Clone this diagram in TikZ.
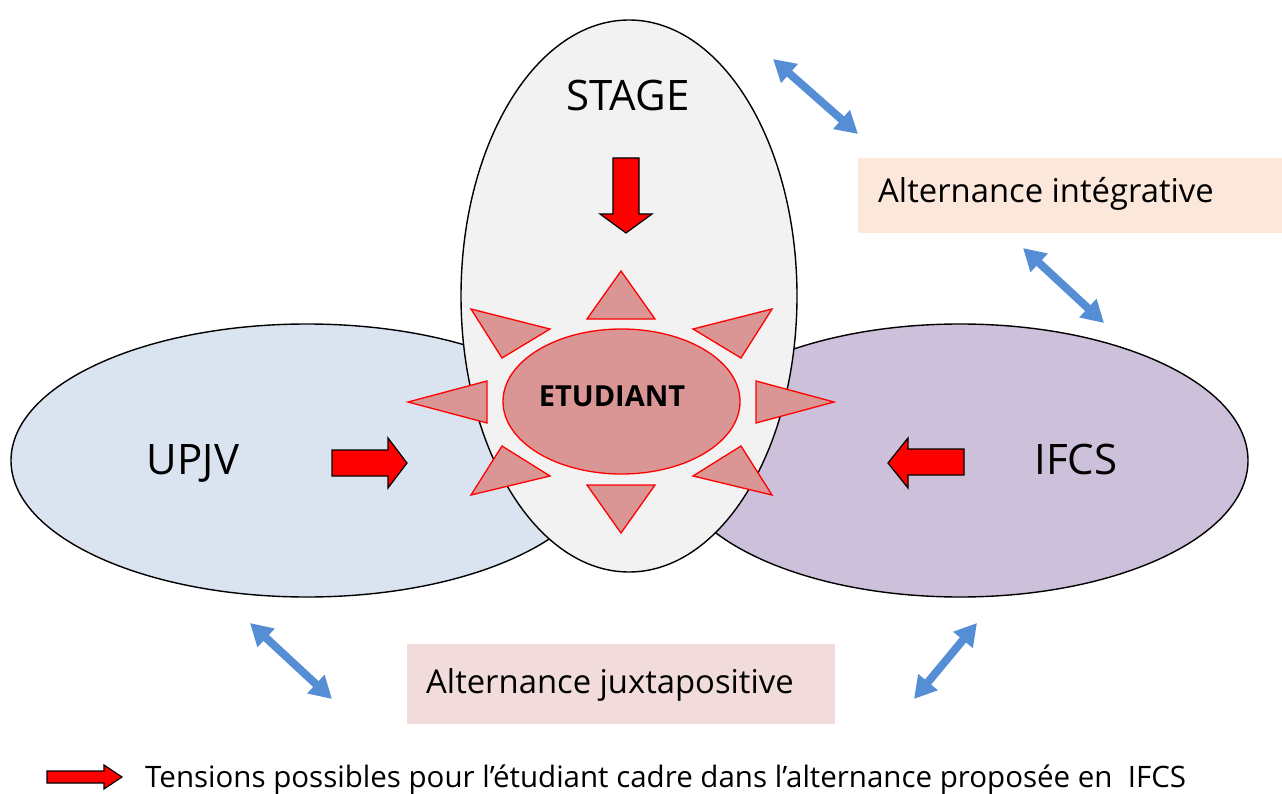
\documentclass[tikz,border=0pt]{standalone}
\usepackage{fontspec}
\setmainfont{Open Sans}
\usetikzlibrary{shapes.geometric,arrows.meta}
\definecolor{blueell}{RGB}{218,227,240}
\definecolor{purpell}{RGB}{204,192,218}
\definecolor{grayell}{RGB}{242,242,242}
\definecolor{sunfill}{RGB}{217,150,148}
\definecolor{arrowblue}{RGB}{85,142,213}
\definecolor{peach}{RGB}{252,232,218}
\definecolor{pinkbox}{RGB}{242,220,219}
\begin{document}
\begin{tikzpicture}[x=1pt,y=-1pt,
  ell/.style={ellipse, draw=black, line width=1.4pt, inner sep=0pt, outer sep=0pt},
  ray/.style={draw=red, fill=sunfill, line width=1.3pt, line join=miter},
  blockarrow/.style={draw=black, fill=red, line width=1.2pt, line join=miter},
  dbl/.style={draw=arrowblue, line width=8pt, {Triangle[width=24pt,length=22pt]}-{Triangle[width=24pt,length=22pt]}},
  biglbl/.style={inner sep=0pt, anchor=base, font=\fontsize{42}{44}\selectfont},
  boxlbl/.style={inner sep=0pt, anchor=base west, font=\fontsize{32.8}{36}\selectfont},
  legendlbl/.style={inner sep=0pt, anchor=base west, font=\fontsize{29.5}{32}\selectfont},
  bgbox/.style={inner sep=0pt, outer sep=0pt, anchor=north west}]
\useasboundingbox (0,0) rectangle (1282,794);
% ellipses
\node[ell, fill=blueell, minimum width=592pt, minimum height=273pt] (upjv) at (307,460.5) {};
\node[ell, fill=purpell, minimum width=576pt, minimum height=273pt] (ifcs) at (960,460.5) {};
\node[ell, fill=grayell, minimum width=336pt, minimum height=552pt] (stage) at (629,296) {};
% sun
\fill[ray] (621,271) -- (587,319) -- (655,319) -- cycle;
\fill[ray] (471,309) -- (550,329) -- (502,358) -- cycle;
\fill[ray] (772,309) -- (693,329) -- (741,358) -- cycle;
\fill[ray] (408,402) -- (487,381) -- (487,423) -- cycle;
\fill[ray] (834,402) -- (756,381) -- (756,423) -- cycle;
\fill[ray] (502,446) -- (550,476) -- (471,495) -- cycle;
\fill[ray] (741,446) -- (693,476) -- (772,495) -- cycle;
\fill[ray] (587,485) -- (655,485) -- (621,533) -- cycle;
\node[ellipse, draw=red, fill=sunfill, line width=1.3pt, minimum width=237pt, minimum height=145pt, inner sep=0pt] (etud) at (621.5,401.5) {};
\node[inner sep=0pt, anchor=base, font=\fontsize{29}{31}\selectfont\bfseries] (etudtxt) at (612,406) {ETUDIANT};
% labels
\node[biglbl] (stagetxt) at (628,111) {STAGE};
\node[biglbl] (upjvtxt) at (193,474) {UPJV};
\node[biglbl] (ifcstxt) at (1076,474) {IFCS};
% red block arrows
\filldraw[blockarrow] (613,158) -- (639,158) -- (639,214) -- (652,214) -- (626,233) -- (600,214) -- (613,214) -- cycle;
\filldraw[blockarrow] (332,450) -- (388,450) -- (388,438) -- (407,463) -- (388,488) -- (388,476) -- (332,476) -- cycle;
\filldraw[blockarrow] (964,449) -- (908,449) -- (908,438) -- (888,463) -- (908,488) -- (908,475) -- (964,475) -- cycle;
\filldraw[blockarrow] (47,771) -- (104,771) -- (104,765) -- (122,777) -- (104,789) -- (104,783) -- (47,783) -- cycle;
% boxes
\node[bgbox, fill=peach, minimum width=424pt, minimum height=75pt] (integ) at (858,158) {};
\node[boxlbl] (integtxt) at (878,203) {Alternance intégrative};
\node[bgbox, fill=pinkbox, minimum width=428pt, minimum height=80pt] (juxta) at (407,644) {};
\node[boxlbl] (juxtatxt) at (426,693) {Alternance juxtapositive};
% legend
\node[legendlbl] (legend) at (145,787) {Tensions possibles pour l’étudiant cadre dans l’alternance proposée en\ \ IFCS};
% blue double arrows
\coordinate (a1s) at (773,59); \coordinate (a1e) at (858,134);
\coordinate (a2s) at (1023,248); \coordinate (a2e) at (1104,323);
\coordinate (a3s) at (250,623); \coordinate (a3e) at (332,699);
\coordinate (a4s) at (977,623); \coordinate (a4e) at (914,699);
\draw[dbl] (a1s) -- (a1e);
\draw[dbl] (a2s) -- (a2e);
\draw[dbl] (a3s) -- (a3e);
\draw[dbl] (a4s) -- (a4e);
\end{tikzpicture}
\end{document}
